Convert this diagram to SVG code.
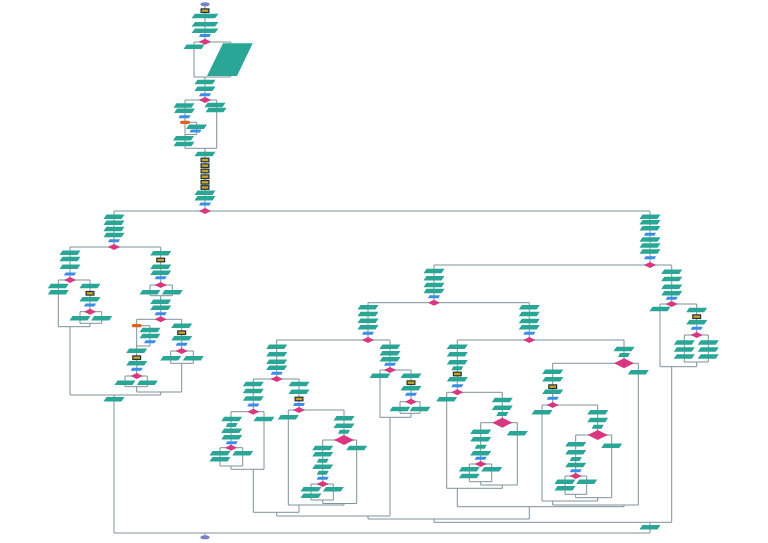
<svg xmlns="http://www.w3.org/2000/svg" xmlns:xlink="http://www.w3.org/1999/xlink" width="768" height="543" viewBox="0 0 768 543">
<style>
.c{fill:none;stroke:#7f9299;stroke-width:1}
.t{fill:#2aa696}
.b{fill:#3a8ee6}
.d{fill:#d8387f}
.o{fill:#e0621c}
.e{fill:#7a7fd0}
</style>
<defs>
<polygon id="P" class="t" points="-7.5,-2.3 10.5,-2.3 7.5,2.3 -10.5,2.3"/>
<polygon id="W" class="t" points="-10,-2.3 13.5,-2.3 10,2.3 -13.5,2.3"/>
<polygon id="Q" class="t" points="-4,-2 6,-2 4,2 -6,2"/>
<polygon id="B" class="b" points="-4.5,-1.5 6,-1.5 4.5,1.5 -6,1.5"/>
<polygon id="D" class="d" points="0,-3 6,0 0,3 -6,0"/>
<polygon id="L" class="d" points="0,-5 10,0 0,5 -10,0"/>
<g id="G"><rect x="-4.5" y="-2.4" width="9" height="4.8" fill="#1e3238"/><rect x="-3.3" y="-1.2" width="6.6" height="2.4" fill="#c9a227"/></g>
<rect id="O" class="o" x="-5" y="-1.6" width="10" height="3.2" rx="1.6"/>
<ellipse id="E" class="e" rx="4.5" ry="2"/>
</defs>
<rect width="768" height="543" fill="#ffffff"/>
<g id="connectors" class="c">
<path d="M205,4V42M194,42H230.7M194,42V77M230.7,42V77M194,77H230.7M205,77V100M185,100H216.7M185,100V148.3M216.7,100V148.3M185,122.3H196.7V134.5H185M185,148.3H216.7M205,148.3V211M114,211H650"/>
<path d="M114,211V247M70,247H160.7M70,247V280M58.3,280H90M58.3,280V326.7M90,280V311.7M80,311.7H101.7M80,311.7V323.3M101.7,311.7V323.3M80,323.3H101.7M90,323.3V326.7M58.3,326.7H90M70,326.7V395"/>
<path d="M160.7,247V285M150,285H172.3M150,285V295.7M172.3,285V295.7M150,295.7H172.3M160.7,295.7V319.3M136.7,319.3H181.7M136.7,319.3V376M136.7,325.7H150V346H136.7M125,376H147.3M125,376V386.7M147.3,376V386.7M125,386.7H147.3M136.7,386.7V392M181.7,319.3V351M170.7,351H193.3M170.7,351V363.3M193.3,351V363.3M170.7,363.3H193.3M181.7,363.3V392M136.7,392H181.7M160.7,392V395M70,395H160.7M114,395V533"/>
<path d="M650,211V265M434,265H671.7M671.7,265V304M660,304H696.7M660,304V366.7M696.7,304V335M684.3,335H708.3M684.3,335V362M708.3,335V362M684.3,362H708.3M696.7,362V366.7M660,366.7H696.7M671.7,366.7V522.3"/>
<path d="M434,265V302.7M368,302.7H529.3M368,302.7V340M276.7,340H390M276.7,340V379M253.3,379H299M253.3,379V411.7M231,411.7H264M231,411.7V447.7M220,447.7H242.7M220,447.7V466M242.7,447.7V466M220,466H242.7M231,466V469.3M264,411.7V469.3M231,469.3H264M253.3,469.3V512.3"/>
<path d="M299,379V410M288.3,410H344M288.3,410V505M344,410V440M322.7,440H356.7M322.7,440V484M311,484H333.3M311,484V500M333.3,484V500M311,500H333.3M322.7,500V503.5M356.7,440V503.5M322.7,503.5H356.7M344,503.5V505M288.3,505H344M299,505V512.3M253.3,512.3H299M276.7,512.3V516"/>
<path d="M390,340V370M380,370H411M380,370V417.3M411,370V401.7M400,401.7H420M400,401.7V413.3M420,401.7V413.3M400,413.3H420M411,413.3V417.3M380,417.3H411M390,417.3V516M276.7,516H390M368,516V519"/>
<path d="M529.3,302.7V340M457.3,340H624M457.3,340V392.3M446.7,392.3H502.3M446.7,392.3V488.3M502.3,392.3V422.7M480.7,422.7H517.3M480.7,422.7V464M469.3,464H491.7M469.3,464V481.7M491.7,464V481.7M469.3,481.7H491.7M480.7,481.7V485M517.3,422.7V485M480.7,485H517.3M502.3,485V488.3M446.7,488.3H502.3M457.3,488.3V506.7"/>
<path d="M624,340V363.3M552.7,363.3H638.3M638.3,363.3V505M552.7,363.3V405M542,405H597.7M542,405V501M597.7,405V435M575.7,435H611.7M575.7,435V476M565,476H586.7M565,476V494.3M586.7,476V494.3M565,494.3H586.7M575.7,494.3V497.7M611.7,435V497.7M575.7,497.7H611.7M597.7,497.7V501M542,501H597.7M552.7,501V505M552.7,505H638.3M624,505V506.7M457.3,506.7H624M529.3,506.7V519"/>
<path d="M368,519H529.3M434,519V522.3M434,522.3H671.7M650,522.3V533M114,533H650M205,533V537"/>
</g>
<g id="n1"><use href="#E" x="205" y="4.3"/></g>
<g id="n2"><use href="#G" x="205" y="10.7"/></g>
<g id="n3"><use href="#W" x="205" y="16"/></g>
<g id="n5"><use href="#W" x="205" y="24.3"/></g>
<g id="n6"><use href="#W" x="205" y="30.7"/></g>
<g id="n7"><use href="#B" x="205" y="35.5"/></g>
<g id="n8"><use href="#D" x="205" y="41.7"/></g>
<g id="n9"><use href="#P" x="194" y="46.7"/></g>
<g id="n10"><polygon class="t" points="223,43.3 252.7,43.3 237,76 207,76"/></g>
<g id="n11"><use href="#P" x="205" y="82"/></g>
<g id="n12"><use href="#P" x="205" y="88.7"/></g>
<g id="n13"><use href="#B" x="205" y="94.7"/></g>
<g id="n14"><use href="#D" x="205" y="100"/></g>
<g id="n15"><use href="#P" x="184" y="105.5"/></g>
<g id="n16"><use href="#P" x="184.5" y="110.7"/></g>
<g id="n17"><use href="#B" x="184.5" y="116.7"/></g>
<g id="n18"><use href="#O" x="185" y="122.3"/></g>
<g id="n19"><use href="#P" x="196.5" y="126.7"/></g>
<g id="n20"><use href="#B" x="195.5" y="131"/></g>
<g id="n21"><use href="#P" x="183.5" y="138.3"/></g>
<g id="n22"><use href="#P" x="184" y="144"/></g>
<g id="n23"><use href="#P" x="215" y="105"/></g>
<g id="n24"><use href="#P" x="216" y="110"/></g>
<g id="n25"><use href="#P" x="205" y="154"/></g>
<g id="n26"><use href="#G" x="205" y="160"/></g>
<g id="n27"><use href="#G" x="205" y="165.7"/></g>
<g id="n28"><use href="#G" x="205" y="171"/></g>
<g id="n29"><use href="#G" x="205" y="176.7"/></g>
<g id="n30"><use href="#G" x="205" y="182.3"/></g>
<g id="n31"><use href="#G" x="205" y="187.5"/></g>
<g id="n33"><use href="#P" x="205" y="192.7"/></g>
<g id="n34"><use href="#P" x="205" y="198.3"/></g>
<g id="n35"><use href="#B" x="205" y="204"/></g>
<g id="n36"><use href="#D" x="205" y="211"/></g>
<g id="n37"><use href="#P" x="114" y="216.7"/></g>
<g id="n38"><use href="#P" x="114" y="222.7"/></g>
<g id="n39"><use href="#P" x="114" y="229"/></g>
<g id="n40"><use href="#P" x="114" y="235"/></g>
<g id="n41"><use href="#B" x="114" y="240.7"/></g>
<g id="n42"><use href="#D" x="114" y="247"/></g>
<g id="n43"><use href="#P" x="70" y="252.7"/></g>
<g id="n44"><use href="#P" x="70" y="259"/></g>
<g id="n45"><use href="#P" x="70" y="266.7"/></g>
<g id="n46"><use href="#B" x="70" y="274"/></g>
<g id="n47"><use href="#D" x="70" y="280"/></g>
<g id="n48"><use href="#P" x="58.3" y="286"/></g>
<g id="n49"><use href="#P" x="58.3" y="292.3"/></g>
<g id="n50"><use href="#P" x="90" y="286"/></g>
<g id="n51"><use href="#G" x="90" y="293.3"/></g>
<g id="n52"><use href="#P" x="90" y="299.3"/></g>
<g id="n53"><use href="#B" x="90" y="305"/></g>
<g id="n54"><use href="#D" x="90" y="311.7"/></g>
<g id="n55"><use href="#P" x="80" y="318.3"/></g>
<g id="n56"><use href="#P" x="101.7" y="318.3"/></g>
<g id="n57"><use href="#P" x="160.7" y="253.3"/></g>
<g id="n58"><use href="#G" x="160.7" y="260"/></g>
<g id="n59"><use href="#P" x="160.7" y="266.7"/></g>
<g id="n60"><use href="#P" x="160.7" y="272.7"/></g>
<g id="n61"><use href="#B" x="160.7" y="277.7"/></g>
<g id="n62"><use href="#D" x="160.7" y="285"/></g>
<g id="n63"><use href="#P" x="150" y="292.3"/></g>
<g id="n64"><use href="#P" x="172.3" y="292.3"/></g>
<g id="n65"><use href="#P" x="160.7" y="301.7"/></g>
<g id="n66"><use href="#P" x="160.7" y="307.7"/></g>
<g id="n67"><use href="#B" x="160.7" y="313.7"/></g>
<g id="n68"><use href="#D" x="160.7" y="319.3"/></g>
<g id="n69"><use href="#O" x="136.7" y="325.7"/></g>
<g id="n70"><use href="#P" x="150" y="330"/></g>
<g id="n71"><use href="#P" x="150" y="336"/></g>
<g id="n72"><use href="#B" x="150" y="341.7"/></g>
<g id="n73"><use href="#P" x="136.7" y="350.7"/></g>
<g id="n74"><use href="#G" x="136.7" y="357.7"/></g>
<g id="n75"><use href="#P" x="136.7" y="363.3"/></g>
<g id="n76"><use href="#B" x="136.7" y="369.3"/></g>
<g id="n77"><use href="#D" x="136.7" y="376"/></g>
<g id="n78"><use href="#P" x="125" y="382.7"/></g>
<g id="n79"><use href="#P" x="147.3" y="382.7"/></g>
<g id="n80"><use href="#P" x="181.7" y="325.7"/></g>
<g id="n81"><use href="#G" x="181.7" y="332.7"/></g>
<g id="n82"><use href="#P" x="181.7" y="338.3"/></g>
<g id="n83"><use href="#B" x="181.7" y="344.3"/></g>
<g id="n84"><use href="#D" x="181.7" y="351"/></g>
<g id="n85"><use href="#P" x="170.7" y="358.3"/></g>
<g id="n86"><use href="#P" x="193.3" y="358.3"/></g>
<g id="n87"><use href="#P" x="114" y="399.3"/></g>
<g id="n88"><use href="#P" x="650" y="216.7"/></g>
<g id="n89"><use href="#P" x="650" y="222.3"/></g>
<g id="n90"><use href="#P" x="650" y="228.3"/></g>
<g id="n91"><use href="#B" x="650" y="234.3"/></g>
<g id="n92"><use href="#P" x="650" y="239.5"/></g>
<g id="n93"><use href="#P" x="650" y="245.5"/></g>
<g id="n94"><use href="#P" x="650" y="251.5"/></g>
<g id="n95"><use href="#B" x="650" y="257.7"/></g>
<g id="n96"><use href="#D" x="650" y="265"/></g>
<g id="n97"><use href="#P" x="671.7" y="271.7"/></g>
<g id="n98"><use href="#P" x="671.7" y="279"/></g>
<g id="n99"><use href="#P" x="671.7" y="286.7"/></g>
<g id="n100"><use href="#P" x="671.7" y="293.3"/></g>
<g id="n101"><use href="#B" x="671.7" y="298.3"/></g>
<g id="n102"><use href="#D" x="671.7" y="304"/></g>
<g id="n103"><use href="#P" x="660" y="309"/></g>
<g id="n104"><use href="#P" x="696.7" y="310"/></g>
<g id="n105"><use href="#G" x="696.7" y="316.7"/></g>
<g id="n106"><use href="#P" x="696.7" y="322.3"/></g>
<g id="n107"><use href="#B" x="696.7" y="328.3"/></g>
<g id="n108"><use href="#D" x="696.7" y="335"/></g>
<g id="n109"><use href="#P" x="684.3" y="342.5"/></g>
<g id="n110"><use href="#P" x="684.3" y="349.5"/></g>
<g id="n111"><use href="#P" x="684.3" y="356.5"/></g>
<g id="n112"><use href="#P" x="708.3" y="342.5"/></g>
<g id="n113"><use href="#P" x="708.3" y="349.5"/></g>
<g id="n114"><use href="#P" x="708.3" y="356.5"/></g>
<g id="n115"><use href="#P" x="434" y="271"/></g>
<g id="n116"><use href="#P" x="434" y="278.3"/></g>
<g id="n117"><use href="#P" x="434" y="285"/></g>
<g id="n118"><use href="#P" x="434" y="291"/></g>
<g id="n119"><use href="#B" x="434" y="296.7"/></g>
<g id="n120"><use href="#D" x="434" y="302.7"/></g>
<g id="n121"><use href="#P" x="368" y="307.3"/></g>
<g id="n122"><use href="#P" x="368" y="314"/></g>
<g id="n123"><use href="#P" x="368" y="320.7"/></g>
<g id="n124"><use href="#P" x="368" y="327.3"/></g>
<g id="n125"><use href="#B" x="368" y="333.3"/></g>
<g id="n126"><use href="#D" x="368" y="340"/></g>
<g id="n127"><use href="#P" x="276.7" y="346.7"/></g>
<g id="n128"><use href="#P" x="276.7" y="354.3"/></g>
<g id="n129"><use href="#P" x="276.7" y="361.7"/></g>
<g id="n130"><use href="#P" x="276.7" y="367.7"/></g>
<g id="n131"><use href="#B" x="276.7" y="373.3"/></g>
<g id="n132"><use href="#D" x="276.7" y="379"/></g>
<g id="n133"><use href="#P" x="253.3" y="384"/></g>
<g id="n134"><use href="#P" x="253.3" y="391"/></g>
<g id="n135"><use href="#P" x="253.3" y="398.5"/></g>
<g id="n136"><use href="#B" x="253.3" y="405"/></g>
<g id="n137"><use href="#D" x="253.3" y="411.7"/></g>
<g id="n138"><use href="#P" x="231.7" y="419"/></g>
<g id="n139"><use href="#Q" x="231.7" y="425"/></g>
<g id="n140"><use href="#P" x="231.7" y="430.7"/></g>
<g id="n140b"><use href="#P" x="231.7" y="437.3"/></g>
<g id="n141"><use href="#B" x="231.7" y="442.7"/></g>
<g id="n142"><use href="#D" x="231" y="447.7"/></g>
<g id="n143"><use href="#P" x="220" y="453.3"/></g>
<g id="n144"><use href="#P" x="220" y="459.3"/></g>
<g id="n145"><use href="#P" x="242.7" y="453.3"/></g>
<g id="n146"><use href="#P" x="264" y="419"/></g>
<g id="n147"><use href="#P" x="299" y="384"/></g>
<g id="n148"><use href="#P" x="299" y="391.7"/></g>
<g id="n149"><use href="#G" x="299" y="399"/></g>
<g id="n150"><use href="#B" x="299" y="404.5"/></g>
<g id="n151"><use href="#D" x="299" y="410"/></g>
<g id="n152"><use href="#P" x="288.3" y="417.3"/></g>
<g id="n153"><use href="#P" x="344" y="418.3"/></g>
<g id="n154"><use href="#P" x="344" y="425.7"/></g>
<g id="n155"><use href="#Q" x="344" y="431.7"/></g>
<g id="n156"><use href="#L" x="344" y="440"/></g>
<g id="n157"><use href="#P" x="322.7" y="448"/></g>
<g id="n158"><use href="#P" x="322.7" y="454.3"/></g>
<g id="n159"><use href="#Q" x="322.7" y="460.7"/></g>
<g id="n160"><use href="#P" x="322.7" y="466.7"/></g>
<g id="n161"><use href="#Q" x="322.7" y="472.7"/></g>
<g id="n162"><use href="#B" x="322.7" y="478.3"/></g>
<g id="n163"><use href="#D" x="322.7" y="484"/></g>
<g id="n164"><use href="#P" x="311" y="489.3"/></g>
<g id="n165"><use href="#P" x="311" y="495.7"/></g>
<g id="n166"><use href="#P" x="333.3" y="489.3"/></g>
<g id="n167"><use href="#P" x="356.7" y="448"/></g>
<g id="n168"><use href="#P" x="390" y="346.7"/></g>
<g id="n169"><use href="#P" x="390" y="353.3"/></g>
<g id="n170"><use href="#P" x="390" y="359.3"/></g>
<g id="n171"><use href="#B" x="390" y="364.3"/></g>
<g id="n172"><use href="#D" x="390" y="370"/></g>
<g id="n173"><use href="#P" x="380" y="375.7"/></g>
<g id="n174"><use href="#P" x="411" y="375.7"/></g>
<g id="n175"><use href="#G" x="411" y="382.7"/></g>
<g id="n176"><use href="#P" x="411" y="388.3"/></g>
<g id="n177"><use href="#B" x="411" y="394.3"/></g>
<g id="n178"><use href="#D" x="411" y="401.7"/></g>
<g id="n179"><use href="#P" x="400" y="409"/></g>
<g id="n180"><use href="#P" x="420" y="409"/></g>
<g id="n181"><use href="#P" x="529.3" y="307.3"/></g>
<g id="n182"><use href="#P" x="529.3" y="314"/></g>
<g id="n183"><use href="#P" x="529.3" y="321"/></g>
<g id="n184"><use href="#P" x="529.3" y="327.3"/></g>
<g id="n185"><use href="#B" x="529.3" y="333.3"/></g>
<g id="n186"><use href="#D" x="529.3" y="340"/></g>
<g id="n187"><use href="#P" x="457.3" y="346.7"/></g>
<g id="n188"><use href="#P" x="457.3" y="354.3"/></g>
<g id="n189"><use href="#P" x="457.3" y="362.3"/></g>
<g id="n190"><use href="#Q" x="457.3" y="368.3"/></g>
<g id="n191"><use href="#G" x="457.3" y="374"/></g>
<g id="n192"><use href="#P" x="457.3" y="379.3"/></g>
<g id="n193"><use href="#B" x="457.3" y="385.7"/></g>
<g id="n194"><use href="#D" x="457.3" y="392.3"/></g>
<g id="n195"><use href="#P" x="446.7" y="399.3"/></g>
<g id="n196"><use href="#P" x="502.3" y="400"/></g>
<g id="n197"><use href="#P" x="502.3" y="407.7"/></g>
<g id="n198"><use href="#Q" x="502.3" y="414"/></g>
<g id="n199"><use href="#L" x="502.3" y="422.7"/></g>
<g id="n200"><use href="#P" x="480.7" y="431.7"/></g>
<g id="n201"><use href="#P" x="480.7" y="439.3"/></g>
<g id="n202"><use href="#Q" x="480.7" y="446.7"/></g>
<g id="n203"><use href="#P" x="480.7" y="453.3"/></g>
<g id="n204"><use href="#B" x="480.7" y="458.3"/></g>
<g id="n205"><use href="#D" x="480.7" y="464"/></g>
<g id="n206"><use href="#P" x="469.3" y="469.3"/></g>
<g id="n207"><use href="#P" x="469.3" y="476"/></g>
<g id="n208"><use href="#P" x="491.7" y="469.3"/></g>
<g id="n209"><use href="#P" x="517.3" y="433.3"/></g>
<g id="n210"><use href="#P" x="624" y="349"/></g>
<g id="n211"><use href="#Q" x="624" y="355"/></g>
<g id="n212"><use href="#L" x="624" y="363.3"/></g>
<g id="n213"><use href="#P" x="638.3" y="372.3"/></g>
<g id="n214"><use href="#P" x="552.7" y="371.7"/></g>
<g id="n215"><use href="#P" x="552.7" y="379.3"/></g>
<g id="n216"><use href="#G" x="552.7" y="386.7"/></g>
<g id="n217"><use href="#P" x="552.7" y="391.7"/></g>
<g id="n218"><use href="#B" x="552.7" y="398.3"/></g>
<g id="n219"><use href="#D" x="552.7" y="405"/></g>
<g id="n220"><use href="#P" x="542" y="412.3"/></g>
<g id="n221"><use href="#P" x="597.7" y="412.3"/></g>
<g id="n222"><use href="#P" x="597.7" y="420"/></g>
<g id="n223"><use href="#Q" x="597.7" y="426.7"/></g>
<g id="n224"><use href="#L" x="597.7" y="435"/></g>
<g id="n225"><use href="#P" x="575.7" y="444.3"/></g>
<g id="n226"><use href="#P" x="575.7" y="452.3"/></g>
<g id="n227"><use href="#Q" x="575.7" y="459"/></g>
<g id="n228"><use href="#P" x="575.7" y="465"/></g>
<g id="n229"><use href="#B" x="575.7" y="470.7"/></g>
<g id="n230"><use href="#D" x="575.7" y="476"/></g>
<g id="n231"><use href="#P" x="565" y="481.7"/></g>
<g id="n232"><use href="#P" x="565" y="488.3"/></g>
<g id="n233"><use href="#P" x="586.7" y="481.7"/></g>
<g id="n234"><use href="#P" x="611.7" y="445.7"/></g>
<g id="n235"><use href="#P" x="650" y="527.3"/></g>
<g id="n236"><use href="#E" x="205" y="537.3"/></g>
</svg>
